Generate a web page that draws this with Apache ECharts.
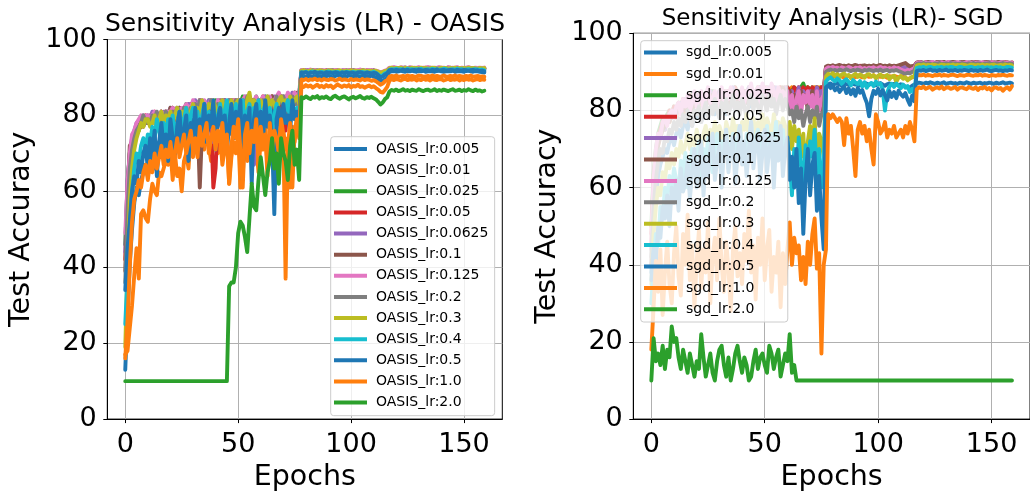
<!DOCTYPE html>
<html>
<head>
<meta charset="utf-8">
<script src="https://cdn.jsdelivr.net/npm/echarts@6/dist/echarts.min.js"></script>
<style>
html, body { margin: 0; padding: 0; background: #ffffff; }
#chart { width: 1030px; height: 497px; }
</style>
</head>
<body>
<div id="chart"></div>
<script>
// Learning rates compared in both panels (legend order)
const lrLabels = ['0.005', '0.01', '0.025', '0.05', '0.0625', '0.1', '0.125', '0.2', '0.3', '0.4', '0.5', '1.0', '2.0'];
const xTickValues = [0, 50, 100, 150];

// ---- OASIS test accuracy per epoch (epochs 0..159) ----
const oasisLr0005 = [
13,28,41,50,57,61,59,63,65,67, 64,68,70,66,71,73,69,72,74,70, 75,72,76,71,77,74,75,78,72,76, 79,74,77,73,78,80,75,79,76,81,
74,78,80,76,79,81,75,80,77,82, 78,76,81,78,80,82,77,81,79,82, 79,77,82,79,81,78,83,80,79,82, 78,83,80,79,82,80,81,79,
90.2,90.4,90.1,90.5,90.3,90.0,90.6,90.2,90.4, 90.1,90.5,90.3,90.6,90.2,90.0,90.4,90.7,90.3,90.1,
90.5,90.2,90.6,90.4,90.0,90.3,90.5,90.2,90.6,90.1, 90.4,90.3,90.5,90.2,90.0,89.6,89.2,89.0,89.5,90.1,
91.5,91.6,91.7,91.5,91.6,91.8,91.6,91.5,91.7,91.6, 91.8,91.6,91.5,91.7,91.6,91.8,91.5,91.6,91.7,91.6,
91.5,91.7,91.8,91.6,91.5,91.6,91.7,91.6,91.8,91.5, 91.6,91.7,91.6,91.5,91.7,91.8,91.6,91.5,91.7,91.6, 91.5,91.4,91.3];
const oasisLr001 = [
17,18,24,30,38,45,37,54,55,53, 52,58,62,60,59,65,64,66,68,67, 71,63,70,64,66,60,68,70,66,75, 69,72,77,70,74,71,75,72,68,76,
73,70,75,67,71,74,62,69,73,70, 75,61,72,77,68,74,70,76,72,65, 74,71,78,66,73,75,69,77,72,70, 76,71,74,61,77,73,79,75,
87.8,87.5,88.0,87.6,87.9,87.3,87.7,88.1,87.5, 87.8,87.4,88.0,87.6,87.9,87.2,87.7,88.2,87.8,87.5,
87.9,87.6,88.0,87.4,87.8,87.6,88.1,87.5,87.7,87.3, 87.6,87.9,87.4,87.7,87.2,86.8,86.2,86.0,86.7,87.5,
89.2,89.5,89.3,89.6,89.4,89.2,89.5,89.7,89.3,89.5, 89.4,89.6,89.2,89.5,89.3,89.7,89.4,89.5,89.2,89.6,
89.4,89.3,89.6,89.5,89.2,89.4,89.7,89.3,89.5,89.4, 89.6,89.2,89.5,89.3,89.6,89.4,89.5,89.2,89.4,89.6, 89.3,89.5,89.4];
const oasisLr0025 = [
46,62,70,73,75,77,76,78,79,78, 79,78,80,79,78,80,81,79,80,81, 80,82,79,81,82,80,81,83,80,82, 82,83,81,84,82,83,80,84,82,83,
84,82,83,81,84,83,82,84,83,82, 84,83,85,82,84,83,84,82,85,83, 84,82,85,83,84,85,83,84,85,83, 85,84,83,85,84,86,84,85,
91.8,91.6,91.9,91.7,91.5,91.8,91.6,91.9,91.7, 91.6,91.8,91.5,91.7,91.9,91.6,91.8,91.7,91.5,91.8,
91.6,91.9,91.7,91.5,91.8,91.6,91.7,91.9,91.6,91.8, 91.5,91.7,91.6,91.8,91.5,91.3,91.0,91.2,91.5,91.7,
92.3,92.5,92.4,92.2,92.5,92.3,92.4,92.6,92.3,92.4, 92.2,92.5,92.4,92.3,92.5,92.2,92.4,92.6,92.3,92.4,
92.5,92.3,92.2,92.4,92.5,92.3,92.4,92.6,92.2,92.4, 92.3,92.5,92.4,92.2,92.5,92.3,92.4,92.3,92.5,92.2, 92.4,92.3,92.4];
const oasisLr005 = [
42,60,68,72,75,77,78,77,79,80, 78,80,79,81,79,80,81,80,81,79, 81,82,80,78,82,81,76,82,81,83, 81,83,82,84,80,83,82,81,78,61,
66,80,83,82,84,81,83,82,84,83, 82,84,81,83,85,82,84,83,76,84, 83,85,82,84,83,85,82,84,83,85, 79,76,85,83,84,86,85,84,
91.7,91.9,91.6,91.8,91.7,91.5,91.9,91.7,91.6, 91.8,91.7,91.9,91.6,91.5,91.8,91.7,91.9,91.6,91.7,
91.8,91.5,91.7,91.9,91.6,91.8,91.7,91.5,91.8,91.6, 91.9,91.7,91.6,91.5,91.7,91.4,91.2,91.1,91.5,91.8,
92.4,92.3,92.5,92.4,92.2,92.5,92.3,92.6,92.4,92.3, 92.5,92.4,92.2,92.5,92.3,92.4,92.6,92.3,92.4,92.2,
92.5,92.4,92.3,92.5,92.2,92.4,92.6,92.3,92.5,92.4, 92.2,92.4,92.5,92.3,92.4,92.2,92.5,92.4,92.3,92.5, 92.3,92.4,92.3];
const oasisLr00625 = [
44,63,70,74,76,78,77,79,80,79, 80,79,81,80,79,80,80,81,81,80, 82,81,80,82,82,81,82,80,83,82, 82,84,83,81,84,82,83,84,80,73,
81,84,83,82,84,83,81,84,83,82, 84,83,82,85,83,84,82,67,80,84, 83,84,85,82,84,83,85,84,82,85, 84,83,85,84,86,84,85,84,
91.9,91.6,91.8,92.0,91.7,91.9,91.6,91.8,91.7, 91.9,91.6,91.8,92.0,91.7,91.8,91.6,91.9,91.7,91.8,
92.0,91.6,91.8,91.7,91.9,91.6,91.8,91.7,92.0,91.8, 91.6,91.9,91.7,91.8,91.6,91.5,91.3,91.4,91.7,91.9,
92.5,92.4,92.6,92.3,92.5,92.4,92.6,92.5,92.3,92.6, 92.4,92.5,92.3,92.6,92.4,92.5,92.3,92.5,92.6,92.4,
92.3,92.5,92.6,92.4,92.5,92.3,92.6,92.4,92.5,92.3, 92.6,92.5,92.4,92.3,92.5,92.6,92.4,92.5,92.3,92.5, 92.4,92.5,92.4];
const oasisLr01 = [
39,58,72,73,74,76,78,79,77,79, 78,79,78,80,79,78,80,79,81,80, 82,79,81,80,82,81,79,82,81,80, 83,82,79,61,76,82,83,81,84,82,
83,81,84,82,83,81,84,82,83,84, 82,84,83,81,84,83,82,84,83,82, 84,83,81,84,82,85,83,84,82,85, 84,85,83,84,85,83,86,84,
91.6,91.8,91.5,91.7,91.6,91.8,91.5,91.7,91.9, 91.6,91.5,91.8,91.7,91.6,91.9,91.5,91.7,91.6,91.8,
91.5,91.7,91.9,91.6,91.7,91.5,91.8,91.6,91.7,91.5, 91.8,91.6,91.7,91.9,91.6,91.4,91.1,91.3,91.6,91.8,
92.2,92.4,92.3,92.5,92.2,92.4,92.3,92.5,92.4,92.2, 92.3,92.5,92.4,92.2,92.4,92.3,92.5,92.2,92.4,92.3,
92.5,92.4,92.2,92.3,92.5,92.4,92.2,92.4,92.3,92.5, 92.3,92.2,92.4,92.5,92.3,92.4,92.2,92.3,92.5,92.4, 92.3,92.2,92.3];
const oasisLr0125 = [
49,62,70,75,76,78,79,80,79,80, 80,79,80,81,80,80,81,80,81,81, 81,82,81,82,81,82,82,83,82,82, 84,83,82,84,83,84,82,83,84,83,
82,84,83,84,83,82,84,83,84,82, 84,83,84,85,83,84,82,84,85,83, 84,85,83,84,85,83,84,85,86,84, 85,84,86,85,84,86,85,86,
92.0,91.7,91.9,91.8,92.1,91.8,91.9,91.7,92.0, 91.8,91.9,91.7,92.0,91.8,91.7,92.0,91.9,91.8,91.7,
92.0,91.8,91.9,91.7,92.0,91.8,91.9,92.1,91.8,91.7, 91.9,91.8,92.0,91.7,91.8,91.6,91.4,91.5,91.8,92.0,
92.6,92.5,92.7,92.6,92.4,92.7,92.5,92.6,92.4,92.7, 92.5,92.6,92.5,92.7,92.4,92.6,92.5,92.7,92.6,92.4,
92.6,92.5,92.7,92.5,92.6,92.4,92.7,92.5,92.6,92.5, 92.7,92.4,92.6,92.5,92.6,92.7,92.5,92.4,92.6,92.5, 92.6,92.5,92.6];
const oasisLr02 = [
36,55,66,71,74,76,77,78,80,78, 79,78,80,79,81,78,80,79,81,80, 79,81,80,82,81,79,82,81,80,82, 82,83,81,84,82,83,81,82,84,83,
81,83,82,84,83,82,84,81,83,84, 83,82,84,83,85,82,83,84,82,84, 83,84,82,85,83,84,82,85,83,84, 85,83,84,82,85,84,83,85,
91.7,91.6,91.8,91.5,91.7,91.9,91.6,91.7,91.5, 91.8,91.6,91.7,91.5,91.8,91.7,91.6,91.8,91.5,91.7,
91.6,91.8,91.5,91.7,91.9,91.6,91.5,91.7,91.8,91.6, 91.7,91.5,91.8,91.6,91.5,91.2,91.0,91.3,91.6,91.7,
92.3,92.2,92.4,92.3,92.5,92.2,92.4,92.3,92.2,92.5, 92.3,92.4,92.2,92.3,92.5,92.4,92.2,92.3,92.4,92.2,
92.5,92.3,92.4,92.2,92.3,92.5,92.3,92.2,92.4,92.3, 92.5,92.2,92.3,92.4,92.3,92.2,92.4,92.5,92.3,92.2, 92.4,92.3,92.2];
const oasisLr03 = [
19,40,58,66,71,74,76,78,77,79, 79,77,78,80,76,79,81,78,80,79, 81,78,80,82,79,81,80,82,78,81, 83,81,82,80,84,82,81,83,82,84,
82,80,83,84,81,83,82,84,82,83, 84,82,83,81,84,86,82,84,83,81, 84,82,83,85,82,84,83,81,84,85, 83,84,82,85,83,84,85,83,
91.8,91.9,91.7,91.6,91.9,91.8,91.6,91.7,91.9, 91.8,91.6,91.7,91.9,91.8,91.6,91.7,91.8,91.9,91.6,
91.7,91.8,91.6,91.9,91.7,91.8,91.6,91.7,91.9,91.8, 91.6,91.8,91.7,91.6,91.8,91.5,91.2,91.4,91.7,91.8,
92.4,92.6,92.3,92.5,92.4,92.6,92.3,92.5,92.4,92.3, 92.6,92.4,92.5,92.3,92.6,92.4,92.5,92.3,92.4,92.6,
92.5,92.3,92.4,92.6,92.4,92.5,92.3,92.5,92.4,92.6, 92.3,92.5,92.4,92.5,92.3,92.6,92.4,92.5,92.4,92.3, 92.5,92.4,92.5];
const oasisLr04 = [
25,38,50,60,66,70,68,72,74,71, 75,73,77,74,79,76,72,78,75,79, 77,80,74,78,81,76,79,82,77,80, 82,78,81,75,80,83,78,81,79,82,
77,80,83,79,81,84,78,82,80,83, 79,82,84,77,81,83,79,82,80,84, 78,81,83,79,82,76,80,83,78,81, 79,82,84,78,83,80,82,79,
91.4,91.3,91.5,91.2,91.4,91.6,91.3,91.4,91.2, 91.5,91.3,91.4,91.6,91.2,91.4,91.3,91.5,91.2,91.4,
91.3,91.5,91.4,91.2,91.5,91.3,91.4,91.2,91.5,91.3, 91.4,91.2,91.3,91.5,91.2,90.8,90.3,90.6,91.1,91.3,
92.0,92.2,92.1,92.3,92.0,92.2,92.1,92.0,92.3,92.1, 92.2,92.0,92.2,92.1,92.3,92.0,92.1,92.2,92.0,92.3,
92.1,92.2,92.0,92.1,92.3,92.2,92.0,92.1,92.2,92.0, 92.3,92.1,92.2,92.0,92.1,92.2,92.0,92.1,92.2,92.1, 92.0,92.1,91.9];
const oasisLr05 = [
34,45,52,60,64,62,68,65,70,72, 66,74,70,76,64,73,78,71,75,68, 79,74,70,77,81,72,76,80,68,78, 74,82,70,79,76,83,73,80,77,84,
71,79,82,75,80,70,78,83,74,81, 77,84,63,80,75,82,62,79,83,76, 81,73,84,77,80,74,54,79,82,75, 83,78,80,76,84,79,81,78,
91.3,91.2,91.4,91.0,91.3,91.2,91.5,91.1,91.3, 91.2,91.0,91.4,91.2,91.3,91.1,91.4,91.2,91.0,91.3,
91.2,91.4,91.1,91.3,91.2,91.0,91.3,91.4,91.2,91.1, 91.3,91.2,91.0,91.2,91.1,90.6,90.0,90.2,90.8,91.1,
91.9,92.0,91.8,92.0,91.9,91.8,92.1,91.9,92.0,91.8, 91.9,92.0,91.8,92.1,91.9,91.8,92.0,91.9,91.8,92.0,
91.9,92.1,91.8,91.9,92.0,91.8,91.9,92.0,91.9,91.8, 92.0,91.9,91.8,92.0,91.9,91.8,91.9,92.0,91.8,91.9, 91.7,91.8,91.6];
const oasisLr10 = [
16,26,40,52,58,60,63,61,65,67, 63,68,65,70,66,69,72,67,71,69, 73,68,70,74,69,72,75,70,73,76, 71,74,69,77,72,75,78,70,74,77,
71,76,73,78,70,75,62,72,77,74, 79,71,61,75,78,70,76,73,79,68, 77,72,75,64,78,71,76,74,70,79, 75,37,72,78,61,76,79,74,
89.5,89.3,89.6,89.2,89.5,89.4,89.7,89.3,89.5, 89.2,89.6,89.4,89.3,89.6,89.5,89.2,89.4,89.7,89.3,
89.5,89.4,89.2,89.6,89.3,89.5,89.4,89.2,89.6,89.3, 89.5,89.4,89.1,89.3,89.0,88.6,88.1,88.4,89.0,89.3,
90.2,90.4,90.3,90.5,90.2,90.3,90.4,90.2,90.5,90.3, 90.4,90.2,90.3,90.5,90.4,90.2,90.3,90.4,90.2,90.5,
90.3,90.4,90.2,90.3,90.5,90.3,90.2,90.4,90.3,90.5, 90.2,90.4,90.3,90.2,90.4,90.3,90.5,90.2,90.3,90.4, 90.2,90.3,90.2];
const oasisLr20 = [
10,10,10,10,10,10,10,10,10,10, 10,10,10,10,10,10,10,10,10,10, 10,10,10,10,10,10,10,10,10,10, 10,10,10,10,10,10,10,10,10,10,
10,10,10,10,10,10,35,36,36,40, 49,52,51,48,44,53,62,56,55,63, 69,64,59,65,68,74,66,70,62,74, 70,68,63,72,76,67,71,63,
84.8,84.5,85.0,84.6,84.3,84.9,84.7,85.1,84.4, 84.8,84.6,85.0,84.5,84.3,84.9,85.2,84.7,84.4,84.8,
85.0,84.6,84.2,84.7,84.9,84.5,84.8,85.1,84.6,84.4, 84.8,84.6,84.9,84.5,84.2,83.6,82.9,83.4,84.3,84.8,
86.3,86.7,86.5,86.8,86.4,86.6,86.9,86.5,86.7,86.4, 86.8,86.6,86.5,86.9,86.6,86.4,86.7,86.8,86.5,86.6,
86.9,86.4,86.7,86.5,86.8,86.6,86.4,86.7,86.9,86.5, 86.6,86.8,86.4,86.7,86.5,86.9,86.6,86.4,86.8,86.5, 86.6,86.3,86.5];

// ---- SGD test accuracy per epoch (epochs 0..159) ----
const sgdLr0005 = [
38,52,58,63,66,68,70,69,72,73, 71,74,75,73,76,77,75,78,76,79, 78,80,77,79,81,78,80,82,79,81, 80,82,81,79,83,81,82,80,83,82,
81,83,82,84,81,83,82,84,83,82, 84,82,83,85,83,82,84,83,85,84, 83,85,84,82,85,83,84,85,83,84, 85,83,84,85,84,83,85,
86.2,86.8,87.0,86.6,86.9,87.1,86.7,86.5,87.0,86.8, 86.6,87.1,86.9,86.7,87.0,86.5,86.8,87.2,86.9,86.6,
87.0,86.8,86.5,86.9,87.1,86.7,86.4,86.8,87.0,86.6, 86.9,86.7,86.5,86.8,86.6,86.2,85.9,86.0,86.4,86.7,
87.0,87.2,87.1,86.9,87.2,87.0,87.3,87.1,86.9,87.2, 87.0,87.1,87.3,86.9,87.1,87.2,87.0,87.1,86.9,87.2,
87.1,87.0,87.3,87.1,86.9,87.2,87.0,87.1,87.2,86.9, 87.1,87.0,87.2,87.1,86.9,87.2,87.0,87.1,87.3,87.0, 87.1,87.2,87.0];
const sgdLr001 = [
45,60,67,71,74,76,75,78,77,79, 80,78,81,80,82,79,81,83,80,82, 83,81,82,84,81,83,82,84,83,81, 84,82,83,85,82,84,83,82,85,83,
84,82,85,83,84,85,83,84,82,85, 83,85,84,82,85,84,83,85,84,86, 84,85,86,84,85,83,86,85,84,86, 85,84,86,85,86,84,85,
88.3,88.8,89.0,88.6,88.9,88.7,89.1,88.8,88.5,88.9, 89.0,88.7,88.9,88.6,89.1,88.8,88.6,88.9,89.0,88.7,
88.8,89.1,88.6,88.9,88.7,89.0,88.8,88.5,88.9,88.7, 89.0,88.8,88.6,88.9,88.7,88.4,88.2,88.3,88.6,88.8,
89.0,89.2,89.1,89.3,89.0,89.2,89.1,88.9,89.2,89.1, 89.3,89.0,89.2,89.1,89.0,89.2,89.3,89.1,88.9,89.2,
89.1,89.0,89.2,89.3,89.1,89.0,89.2,89.1,89.3,89.0, 89.2,89.1,88.9,89.2,89.1,89.0,89.2,89.1,89.3,89.1, 89.0,89.2,89.1];
const sgdLr0025 = [
50,64,70,74,76,78,77,79,80,79, 81,80,82,81,80,83,81,82,84,82, 83,82,84,83,81,84,83,85,82,84, 83,85,84,82,85,83,84,86,83,85,
84,83,85,84,86,83,85,84,86,85, 84,86,85,83,86,84,85,86,84,85, 86,84,85,86,85,84,86,87,85,86, 85,86,84,86,85,86,85,
91.0,91.3,91.5,91.2,91.4,91.1,91.3,91.5,91.2,91.4, 91.3,91.1,91.4,91.2,91.5,91.3,91.1,91.4,91.2,91.3,
91.5,91.2,91.4,91.1,91.3,91.2,91.4,91.5,91.2,91.3, 91.1,91.4,91.2,91.3,91.1,90.8,90.6,90.9,91.2,91.4,
92.1,92.3,92.2,92.4,92.1,92.3,92.2,92.0,92.3,92.2, 92.4,92.1,92.2,92.3,92.1,92.4,92.2,92.3,92.1,92.2,
92.4,92.2,92.1,92.3,92.2,92.4,92.1,92.3,92.2,92.0, 92.3,92.2,92.4,92.1,92.2,92.3,92.1,92.2,92.4,92.2, 92.1,92.3,92.2];
const sgdLr005 = [
48,63,69,73,75,77,78,77,80,79, 81,80,82,81,83,80,82,84,81,83, 82,84,83,81,84,83,85,82,84,83, 85,83,84,82,85,84,83,86,84,85,
83,85,84,86,83,85,84,86,85,83, 86,84,85,83,86,85,84,86,85,84, 86,85,84,86,85,86,84,86,85,86, 84,86,85,86,84,86,85,
91.2,91.4,91.3,91.5,91.2,91.4,91.6,91.3,91.2,91.5, 91.3,91.4,91.2,91.5,91.3,91.6,91.2,91.4,91.3,91.5,
91.2,91.4,91.3,91.6,91.2,91.4,91.3,91.2,91.5,91.3, 91.4,91.2,91.5,91.3,91.2,91.0,90.7,91.0,91.3,91.5,
92.3,92.2,92.4,92.3,92.5,92.2,92.4,92.3,92.2,92.4, 92.3,92.5,92.2,92.3,92.4,92.2,92.5,92.3,92.4,92.2,
92.3,92.5,92.3,92.2,92.4,92.3,92.5,92.2,92.4,92.3, 92.2,92.4,92.3,92.5,92.2,92.3,92.4,92.2,92.3,92.5, 92.3,92.2,92.4];
const sgdLr00625 = [
44,60,68,72,74,76,75,78,79,78, 80,79,81,82,80,83,81,82,83,81, 84,82,83,81,84,82,85,83,84,82, 85,84,82,85,83,84,86,83,85,84,
82,85,84,86,83,85,84,82,86,84, 85,83,86,84,85,86,83,85,84,86, 84,83,85,82,84,86,83,85,84,82, 85,84,83,86,84,85,83,
91.3,91.5,91.4,91.2,91.5,91.3,91.4,91.6,91.3,91.4, 91.2,91.5,91.3,91.4,91.6,91.2,91.4,91.3,91.5,91.2,
91.4,91.3,91.5,91.4,91.2,91.5,91.3,91.4,91.2,91.5, 91.3,91.4,91.3,91.2,91.4,91.1,90.8,91.1,91.4,91.5,
92.4,92.3,92.5,92.2,92.4,92.3,92.5,92.4,92.2,92.3, 92.5,92.4,92.3,92.2,92.4,92.5,92.3,92.4,92.2,92.5,
92.3,92.4,92.3,92.5,92.2,92.4,92.3,92.5,92.4,92.2, 92.3,92.4,92.5,92.3,92.2,92.4,92.3,92.5,92.4,92.2, 92.3,92.4,92.3];
const sgdLr01 = [
40,58,66,71,73,75,76,78,77,79, 78,80,81,79,82,80,81,83,80,82, 81,83,82,84,81,83,82,84,83,81, 84,82,85,83,81,84,83,85,82,84,
83,85,82,84,86,83,85,84,82,85, 84,83,85,86,83,84,85,83,86,84, 83,85,81,84,80,83,85,82,84,80, 83,85,81,84,82,80,83,
91.4,91.6,91.5,91.7,91.4,91.6,91.8,91.5,91.6,91.4, 91.7,91.5,91.6,91.8,91.5,91.4,91.6,91.7,91.5,91.6,
91.4,91.7,91.5,91.6,91.8,91.5,91.6,91.4,91.7,91.5, 91.6,91.5,91.7,91.9,92.1,92.3,91.8,91.4,91.5,91.6,
92.4,92.6,92.5,92.3,92.5,92.6,92.4,92.5,92.3,92.6, 92.4,92.5,92.6,92.3,92.5,92.4,92.6,92.5,92.3,92.4,
92.6,92.5,92.4,92.3,92.5,92.6,92.4,92.5,92.3,92.4, 92.6,92.5,92.4,92.3,92.5,92.4,92.6,92.3,92.5,92.4, 92.5,92.3,92.4];
const sgdLr0125 = [
46,62,70,74,73,77,78,76,79,80, 78,81,82,79,83,81,84,80,82,85, 81,83,85,80,84,86,82,83,85,81, 84,86,82,85,83,86,81,84,85,83,
86,82,85,84,87,83,85,86,82,87, 84,86,83,87,85,82,86,84,85,83, 85,80,84,78,83,85,79,84,82,85, 81,84,78,85,80,83,84,
90.8,91.2,91.0,91.3,90.9,91.1,90.7,91.2,91.0,90.8, 91.3,91.0,90.6,91.1,90.9,91.2,90.8,91.0,90.7,91.1,
90.9,91.2,90.8,91.0,91.3,90.9,91.1,90.7,91.0,90.8, 91.2,90.9,91.0,90.6,90.4,90.2,90.5,90.3,90.7,91.0,
92.3,92.5,92.4,92.2,92.5,92.3,92.4,92.6,92.3,92.4, 92.2,92.5,92.3,92.4,92.6,92.3,92.2,92.4,92.5,92.3,
92.4,92.2,92.5,92.4,92.3,92.5,92.2,92.4,92.3,92.5, 92.4,92.2,92.3,92.5,92.4,92.3,92.2,92.4,92.5,92.3, 92.4,92.3,92.4];
const sgdLr02 = [
42,55,62,67,70,69,73,72,75,74, 77,75,78,76,79,77,80,78,76,80, 79,81,77,80,82,78,81,79,83,80, 78,82,80,83,79,81,84,80,82,79,
83,81,78,82,84,80,83,81,79,84, 82,80,84,81,83,79,82,84,80,83, 81,79,80,77,81,78,80,76,79,81, 77,80,78,81,76,79,80,
90.0,90.4,90.6,90.3,90.5,90.2,90.6,90.4,90.3,90.7, 90.4,90.2,90.5,90.3,90.6,90.4,90.1,90.5,90.3,90.6,
90.4,90.2,90.5,90.3,90.6,90.2,90.4,90.5,90.1,90.4, 90.3,90.5,90.2,90.0,89.7,89.5,89.8,89.6,90.0,90.3,
92.0,92.2,92.1,92.3,92.0,92.2,92.1,91.9,92.2,92.1, 92.3,92.0,92.1,92.2,92.0,92.3,92.1,92.2,92.0,92.1,
92.3,92.1,92.0,92.2,92.1,92.3,92.0,92.2,92.1,91.9, 92.2,92.1,92.3,92.0,92.1,92.2,92.0,92.1,92.3,92.1, 92.0,92.2,92.1];
const sgdLr03 = [
35,48,55,60,58,64,62,67,65,69, 66,70,68,72,69,71,74,70,73,71, 75,72,70,74,76,71,75,73,77,72, 76,74,71,77,75,73,78,74,76,72,
77,75,79,73,76,78,74,77,75,79, 74,78,76,73,79,75,77,74,78,76, 73,77,70,76,72,75,68,74,63,72, 76,70,78,65,74,72,68,
88.8,89.5,89.2,89.7,89.0,89.4,88.6,89.3,89.6,88.9, 89.2,88.4,89.1,89.5,88.7,89.3,89.0,88.5,89.2,89.4,
88.8,89.1,88.3,89.0,89.3,88.6,88.9,89.2,88.1,88.8, 89.0,87.4,88.5,88.9,88.2,88.6,87.8,88.3,88.7,88.9,
91.6,91.8,91.7,91.9,91.6,91.8,91.7,91.9,91.8,91.6, 91.7,91.9,91.8,91.6,91.8,91.7,91.9,91.6,91.8,91.7,
91.9,91.8,91.6,91.7,91.9,91.8,91.6,91.8,91.7,91.9, 91.6,91.8,91.7,91.8,91.9,91.6,91.7,91.8,91.6,91.9, 91.7,91.8,91.7];
const sgdLr04 = [
30,40,48,45,55,52,60,57,63,59, 65,62,58,67,63,69,60,66,70,64, 68,72,62,70,66,73,69,64,71,74, 67,72,70,75,65,71,74,68,73,76,
70,66,74,72,77,69,73,75,67,74, 72,76,68,74,71,77,70,73,75,69, 72,67,58,70,62,73,66,60,71,64, 72,68,75,62,70,60,66,
87.5,88.2,88.6,88.0,87.6,88.3,87.8,86.9,87.7,88.1, 87.4,86.5,87.9,87.2,86.8,87.6,86.2,87.3,85.9,86.8,
87.1,86.3,87.5,86.7,87.0,85.5,80.0,84.6,86.2,86.9, 86.1,87.0,86.4,85.8,86.7,85.9,86.3,84.8,85.6,84.2,
91.0,91.2,91.1,91.3,91.0,91.2,91.3,91.1,91.0,91.2, 91.1,91.3,91.0,91.2,91.1,91.3,91.2,91.0,91.1,91.3,
91.2,91.0,91.1,91.2,91.3,91.1,91.0,91.2,91.1,91.3, 91.0,91.2,91.1,91.2,91.0,91.3,91.1,91.2,91.0,91.1, 91.3,91.2,91.1];
const sgdLr05 = [
36,45,40,50,47,55,52,58,50,60, 56,62,54,65,59,61,67,57,64,70, 60,66,72,58,68,63,70,74,62,67, 71,60,69,75,64,70,73,61,68,76,
66,72,63,70,77,65,71,74,62,69, 75,64,70,73,60,72,67,76,63,70, 73,62,68,60,70,56,65,48,62,70, 58,66,69,54,63,52,44,
86.0,86.5,85.8,86.3,85.2,86.0,84.8,85.6,86.2,84.5, 85.7,84.2,85.5,83.8,85.9,84.6,85.3,83.5,82.0,78.5,
83.0,85.1,84.3,85.6,83.9,85.2,84.0,82.6,85.0,83.5, 84.8,83.2,85.1,84.2,83.6,84.5,82.8,81.5,83.9,82.4,
90.2,90.4,90.3,90.5,90.2,90.4,90.6,90.3,90.4,90.2, 90.5,90.3,90.4,90.6,90.2,90.4,90.3,90.5,90.2,90.4,
90.3,90.5,90.4,90.2,90.5,90.3,90.4,90.2,90.5,90.3, 90.4,90.6,90.3,90.2,90.4,90.5,90.3,90.4,90.2,90.4, 90.3,90.5,90.4];
const sgdLr10 = [
18,29,41,33,44,27,38,46,35,30, 43,50,37,32,48,40,53,36,45,29, 41,49,34,44,38,51,30,42,47,36, 52,40,33,46,39,28,44,50,37,43,
35,48,41,54,38,45,31,47,40,52, 36,44,49,33,42,38,46,29,43,35, 44,51,40,47,43,45,36,42,35,46, 40,48,52,39,43,17,40,
44,79,78,79,78,77,78,77,71,78, 74,76,70,63,75,77,74,76,72,75, 70,66,79,77,74,75,77,73,75,74, 76,73,74,75,73,76,74,77,75,72,
85.5,86.0,85.8,86.2,85.6,85.9,86.1,85.4,85.8,86.0, 85.7,86.2,85.5,85.9,86.0,85.6,85.8,86.1,85.4,85.9,
86.0,85.7,85.5,86.1,85.8,85.6,86.0,85.3,85.9,85.7, 86.1,85.5,85.8,85.2,85.9,86.0,85.6,85.8,85.1,85.7, 86.0,85.4,86.3];
const sgdLr20 = [
10,21,15,17,14,19,13,18,16,24, 20,21,16,13,18,15,12,17,14,11, 15,13,22,16,11,14,17,12,10,15, 18,19,14,11,16,10,13,17,19,15,
12,16,14,10,11,15,18,13,16,17, 14,12,19,17,13,16,18,11,14,17, 15,22,12,14,10,10,10,10,10,10, 10,10,10,10,10,10,10,
10,10,10,10,10,10,10,10,10,10, 10,10,10,10,10,10,10,10,10,10, 10,10,10,10,10,10,10,10,10,10, 10,10,10,10,10,10,10,10,10,10,
10,10,10,10,10,10,10,10,10,10, 10,10,10,10,10,10,10,10,10,10, 10,10,10,10,10,10,10,10,10,10, 10,10,10,10,10,10,10,10,10,10, 10,10,10];

const oasisValues = [oasisLr0005, oasisLr001, oasisLr0025, oasisLr005, oasisLr00625, oasisLr01, oasisLr0125,
  oasisLr02, oasisLr03, oasisLr04, oasisLr05, oasisLr10, oasisLr20];
const sgdValues = [sgdLr0005, sgdLr001, sgdLr0025, sgdLr005, sgdLr00625, sgdLr01, sgdLr0125,
  sgdLr02, sgdLr03, sgdLr04, sgdLr05, sgdLr10, sgdLr20];

// matplotlib "tab10" cycle
const palette = ['#1f77b4', '#ff7f0e', '#2ca02c', '#d62728', '#9467bd', '#8c564b',
  '#e377c2', '#7f7f7f', '#bcbd22', '#17becf'];
const FONT = 'DejaVu Sans';

const oasisNames = lrLabels.map(lr => 'OASIS_lr:' + lr);
const sgdNames = lrLabels.map(lr => 'sgd_lr:' + lr);

function makeXAxis(gridIndex) {
  return {
    gridIndex, type: 'value', min: -7.95, max: 166.95, minInterval: 50, maxInterval: 50,
    axisLine: { show: true, onZero: false, lineStyle: { color: '#000', width: 1 } },
    axisTick: { show: true, length: 4, customValues: xTickValues, lineStyle: { color: '#000', width: 1 } },
    axisLabel: { customValues: xTickValues, fontFamily: FONT, fontSize: 27, color: '#000', margin: 12 },
    splitLine: { show: true, lineStyle: { color: '#b0b0b0', width: 1 } },
    name: 'Epochs', nameLocation: 'middle', nameGap: 42,
    nameTextStyle: { fontFamily: FONT, fontSize: 28.5, color: '#000' }
  };
}
function makeYAxis(gridIndex) {
  return {
    gridIndex, type: 'value', min: 0, max: 100, interval: 20,
    axisLine: { show: true, onZero: false, lineStyle: { color: '#000', width: 1 } },
    axisTick: { show: true, length: 4, lineStyle: { color: '#000', width: 1 } },
    axisLabel: { fontFamily: FONT, fontSize: 27, color: '#000', margin: 10.5 },
    splitLine: { show: true, lineStyle: { color: '#b0b0b0', width: 1 } },
    name: 'Test Accuracy', nameLocation: 'middle', nameGap: 71, nameRotate: 90,
    nameTextStyle: { fontFamily: FONT, fontSize: 28.5, color: '#000' }
  };
}
function makeLegend(names, left, top, pad, gap) {
  return {
    data: names, orient: 'vertical', left, top, padding: pad, itemGap: gap,
    itemWidth: 33, itemHeight: 4, icon: 'rect', selectedMode: false,
    textStyle: { fontFamily: FONT, fontSize: 14, color: '#000', lineHeight: 17, padding: [0, 0, 0, 4] },
    backgroundColor: 'rgba(255,255,255,0.8)', borderColor: '#cccccc', borderWidth: 1, borderRadius: 3
  };
}
function makeSeries(names, valueSets, axisIndex) {
  return names.map((name, k) => ({
    name, type: 'line', xAxisIndex: axisIndex, yAxisIndex: axisIndex,
    data: valueSets[k].map((v, epoch) => [epoch, v]),
    showSymbol: false, symbol: 'none', silent: true,
    color: palette[k % palette.length],
    lineStyle: { width: 3.9, join: 'round', cap: 'round' },
    clip: true
  }));
}

const chart = echarts.init(document.getElementById('chart'), null, { renderer: 'canvas' });
chart.setOption({
  animation: false,
  backgroundColor: '#ffffff',
  title: [
    { text: 'Sensitivity Analysis (LR) - OASIS', left: 305, top: 11.5, textAlign: 'center', padding: 0,
      textStyle: { fontFamily: FONT, fontSize: 25, fontWeight: 'normal', color: '#000' } },
    { text: 'Sensitivity Analysis (LR)- SGD', left: 832.5, top: 7.5, textAlign: 'center', padding: 0,
      textStyle: { fontFamily: FONT, fontSize: 23, fontWeight: 'normal', color: '#000' } }
  ],
  grid: [
    { left: 107.3, top: 39.5, width: 395, height: 383.2, show: true, borderColor: '#000', borderWidth: 1, backgroundColor: 'transparent' },
    { left: 633.3, top: 33.3, width: 399.4, height: 388.7, show: true, borderColor: '#000', borderWidth: 1, backgroundColor: 'transparent' }
  ],
  xAxis: [makeXAxis(0), makeXAxis(1)],
  yAxis: [makeYAxis(0), makeYAxis(1)],
  legend: [
    makeLegend(oasisNames, 330.7, 136.7, [3.8, 6.3, 4.6, 3.3], 4.13),
    makeLegend(sgdNames, 640.7, 40.7, [3.3, 6.6, 4.2, 3.3], 4.4)
  ],
  series: makeSeries(oasisNames, oasisValues, 0).concat(makeSeries(sgdNames, sgdValues, 1))
});
</script>
</body>
</html>
